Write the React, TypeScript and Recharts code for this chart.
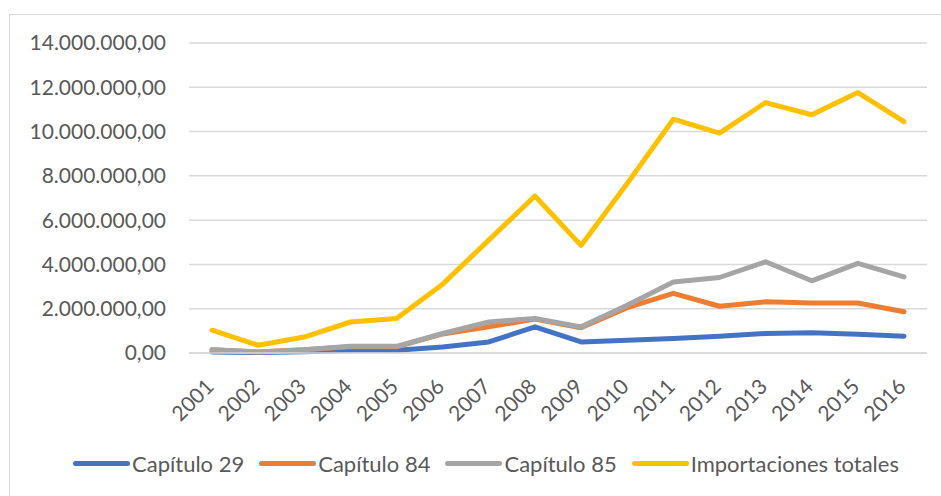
import React from 'react';
import { LineChart, Line, XAxis, YAxis, CartesianGrid } from 'recharts';

const years = ['2001', '2002', '2003', '2004', '2005', '2006', '2007', '2008', '2009', '2010', '2011', '2012', '2013', '2014', '2015', '2016'];

const capitulo29 = [50000, 20000, 60000, 120000, 120000, 270000, 500000, 1180000, 500000, 580000, 650000, 760000, 880000, 910000, 850000, 760000];
const capitulo84 = [150000, 40000, 150000, 280000, 280000, 860000, 1180000, 1530000, 1140000, 2050000, 2690000, 2110000, 2310000, 2260000, 2260000, 1860000];
const capitulo85 = [150000, 50000, 150000, 300000, 300000, 880000, 1400000, 1560000, 1180000, 2160000, 3210000, 3410000, 4120000, 3260000, 4050000, 3440000];
const importacionesTotales = [1030000, 350000, 720000, 1400000, 1560000, 3110000, 5100000, 7090000, 4860000, 7660000, 10560000, 9930000, 11310000, 10760000, 11760000, 10450000];

const yTicks = [0, 2000000, 4000000, 6000000, 8000000, 10000000, 12000000, 14000000];

const series = [
  { key: 'c29', name: 'Capítulo 29', color: '#4472C4', values: capitulo29 },
  { key: 'c84', name: 'Capítulo 84', color: '#ED7D31', values: capitulo84 },
  { key: 'c85', name: 'Capítulo 85', color: '#A5A5A5', values: capitulo85 },
  { key: 'tot', name: 'Importaciones totales', color: '#FFC000', values: importacionesTotales },
];

const data = years.map((year, i) => {
  const row: Record<string, any> = { year };
  series.forEach(s => { row[s.key] = s.values[i]; });
  return row;
});

const FONT = 'Lato, "Open Sans", sans-serif';
const TEXT = '#595959';

// 14000000 -> "14.000.000,00"
const fmt = (v: number) => {
  const int = Math.round(v).toString().replace(/\B(?=(\d{3})+(?!\d))/g, '.');
  return `${int},00`;
};

const YearTick = (props: any) => {
  const { x, y, payload } = props;
  return (
    <g transform={`translate(${x + 3},${y + 35})`}>
      <text x={0} y={0} textAnchor="end" transform="rotate(-45)" fill={TEXT} fontSize={21} fontFamily={FONT}>
        {payload.value}
      </text>
    </g>
  );
};

export default function App() {
  return (
    <div style={{ position: 'absolute', left: 0, top: 0, width: 941, height: 496, overflow: 'hidden', background: '#fff' }}>
      <div style={{ position: 'absolute', left: 9, top: 14, width: 960, height: 520, border: '1px solid #D9D9D9' }} />
      <div style={{ position: 'absolute', left: 0, top: 0 }}>
        <LineChart width={941} height={496} data={data} margin={{ top: 43, right: 14, left: 0, bottom: 0 }}>
          <CartesianGrid vertical={false} stroke="#D9D9D9" strokeWidth={1.5} />
          <XAxis
            dataKey="year"
            height={143}
            padding={{ left: 23, right: 23 }}
            axisLine={{ stroke: '#D9D9D9', strokeWidth: 1.5 }}
            tickLine={false}
            tickSize={0}
            tickMargin={0}
            interval={0}
            tick={<YearTick />}
          />
          <YAxis
            width={189}
            domain={[0, 14000000]}
            ticks={yTicks}
            axisLine={false}
            tickLine={false}
            tickSize={0}
            tickMargin={23}
            tickFormatter={fmt}
            tick={{ fill: TEXT, fontSize: 21, fontFamily: FONT }}
          />
          {series.map(s => (
            <Line
              key={s.key}
              type="linear"
              dataKey={s.key}
              name={s.name}
              stroke={s.color}
              strokeWidth={5}
              strokeLinecap="round"
              strokeLinejoin="round"
              dot={false}
              activeDot={false}
              isAnimationActive={false}
            />
          ))}
        </LineChart>
      </div>
      <div style={{ position: 'absolute', left: 73, top: 448, height: 30, display: 'flex', alignItems: 'center', fontFamily: FONT, fontSize: 22, color: TEXT, whiteSpace: 'nowrap' }}>
        {series.map(s => (
          <div key={s.key} style={{ display: 'flex', alignItems: 'center', marginRight: 15 }}>
            <div style={{ width: 57, height: 5, borderRadius: 3, background: s.color, marginRight: 2 }} />
            <span>{s.name}</span>
          </div>
        ))}
      </div>
    </div>
  );
}
